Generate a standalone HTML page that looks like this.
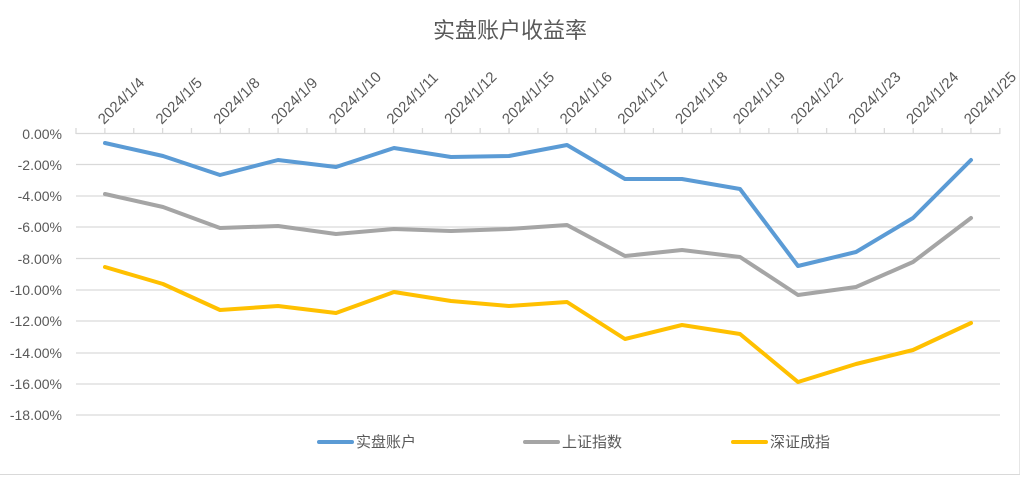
<!DOCTYPE html>
<html><head><meta charset="utf-8"><style>
html,body{margin:0;padding:0;background:#fff;}
svg{display:block;font-family:"Liberation Sans","Noto Sans CJK SC",sans-serif;}
</style></head><body>
<svg width="1024" height="483" viewBox="0 0 1024 483" xmlns="http://www.w3.org/2000/svg">
<rect x="0" y="0" width="1024" height="483" fill="#fff"/>
<line x1="0" y1="474.5" x2="1020" y2="474.5" stroke="#d9d9d9"/>
<line x1="1019.5" y1="0" x2="1019.5" y2="474" stroke="#e6e6e6"/>
<text x="510" y="38" text-anchor="middle" font-size="22" fill="#595959">实盘账户收益率</text>
<g stroke="#d9d9d9" stroke-width="1.3">
<line x1="76" y1="164.5" x2="1000" y2="164.5"/>
<line x1="76" y1="196" x2="1000" y2="196"/>
<line x1="76" y1="227" x2="1000" y2="227"/>
<line x1="76" y1="258.5" x2="1000" y2="258.5"/>
<line x1="76" y1="290" x2="1000" y2="290"/>
<line x1="76" y1="321" x2="1000" y2="321"/>
<line x1="76" y1="353" x2="1000" y2="353"/>
<line x1="76" y1="384" x2="1000" y2="384"/>
<line x1="76" y1="415" x2="1000" y2="415"/>
<line x1="76" y1="133.5" x2="1000" y2="133.5"/>
</g>
<g stroke="#d9d9d9" stroke-width="1.3" id="ticks"></g>
<g font-size="14" fill="#595959" text-anchor="end">
<text x="62" y="139">0.00%</text>
<text x="62" y="170">-2.00%</text>
<text x="62" y="201">-4.00%</text>
<text x="62" y="232">-6.00%</text>
<text x="62" y="264">-8.00%</text>
<text x="62" y="295">-10.00%</text>
<text x="62" y="326">-12.00%</text>
<text x="62" y="358">-14.00%</text>
<text x="62" y="389">-16.00%</text>
<text x="62" y="420">-18.00%</text>
</g>
<g font-size="15" fill="#595959" id="xl"></g>
<polyline fill="none" stroke="#5b9bd5" stroke-width="4" stroke-linejoin="round" stroke-linecap="round" points="105,143 163,156 220,175 278,160 336,167 394,148 451,157 509,156 567,145 625,179 682,179 740,189 798,266 856,252 913,218 971,160"/>
<polyline fill="none" stroke="#a5a5a5" stroke-width="4" stroke-linejoin="round" stroke-linecap="round" points="105,194 163,207 220,228 278,226 336,234 394,229 451,231 509,229 567,225 625,256 682,250 740,257 798,295 856,287 913,262 971,218"/>
<polyline fill="none" stroke="#ffc000" stroke-width="4" stroke-linejoin="round" stroke-linecap="round" points="105,267 163,284 220,310 278,306 336,313 394,292 451,301 509,306 567,302 625,339 682,325 740,334 798,382 856,364 913,350 971,323"/>
<g font-size="15" fill="#595959">
<line x1="319" y1="442" x2="352" y2="442" stroke="#5b9bd5" stroke-width="4" stroke-linecap="round"/>
<text x="356" y="447">实盘账户</text>
<line x1="525" y1="442" x2="558" y2="442" stroke="#a5a5a5" stroke-width="4" stroke-linecap="round"/>
<text x="562" y="447">上证指数</text>
<line x1="733" y1="442" x2="766" y2="442" stroke="#ffc000" stroke-width="4" stroke-linecap="round"/>
<text x="770" y="447">深证成指</text>
</g>
<script>
var t=document.getElementById('ticks'),xl=document.getElementById('xl'),ns='http://www.w3.org/2000/svg';
for(var k=0;k<=32;k++){var x=76+28.87*k;var l=document.createElementNS(ns,'line');l.setAttribute('x1',x);l.setAttribute('x2',x);l.setAttribute('y1',128);l.setAttribute('y2',134);t.appendChild(l);}
var d=['4','5','8','9','10','11','12','15','16','17','18','19','22','23','24','25'];
for(var i=0;i<16;i++){var x=105+57.73*i;var e=document.createElementNS(ns,'text');e.setAttribute('transform','translate('+(x-1)+',125) rotate(-45)');e.textContent='2024/1/'+d[i];xl.appendChild(e);}
</script>
</svg>
</body></html>
